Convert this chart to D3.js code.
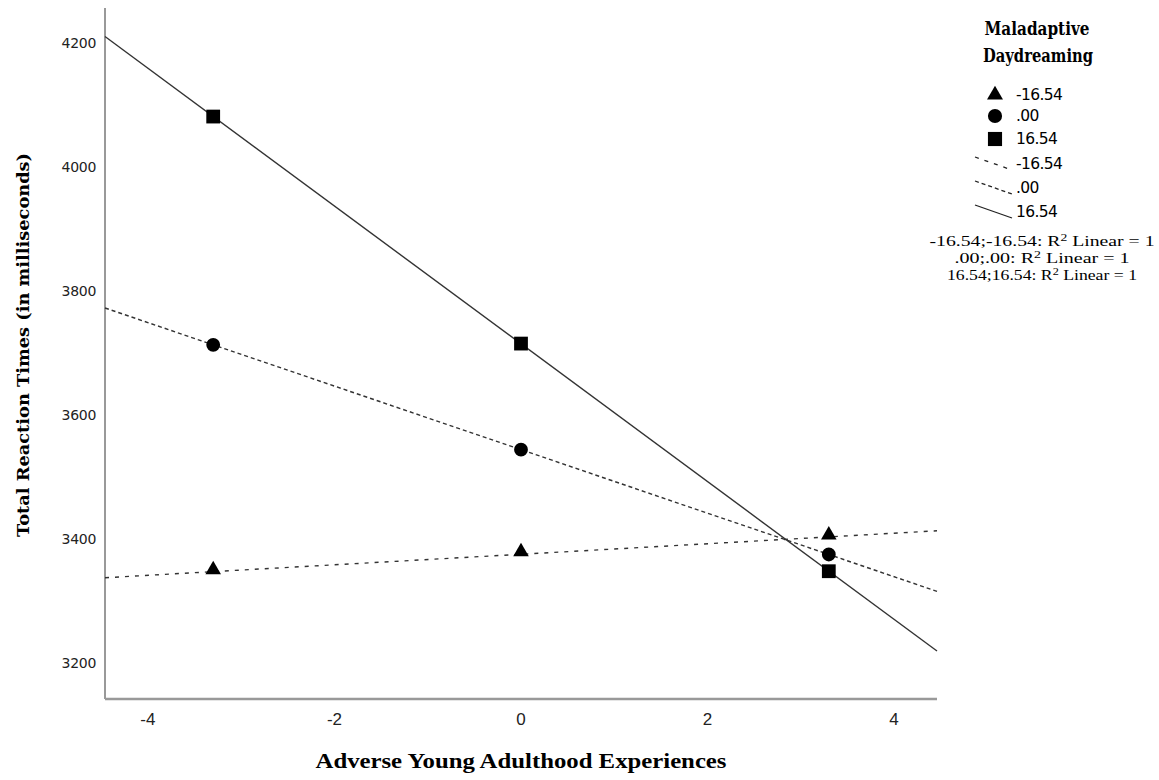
<!DOCTYPE html>
<html><head><meta charset="utf-8">
<script src="https://cdn.jsdelivr.net/npm/d3@7/dist/d3.min.js"></script>
<style>body{margin:0;background:#fff}svg{display:block}</style>
</head><body><svg id="chart" width="1159" height="780"></svg>
<script>
const xValues = [-3.3, 0, 3.3];
const seriesNames = ["-16.54", ".00", "16.54"];
const lowMD = [3347, 3376, 3403];
const meanMD = [3713, 3544, 3375];
const highMD = [4081, 3715, 3348];
const xTicks = [-4, -2, 0, 2, 4];
const yTicks = [3200, 3400, 3600, 3800, 4000, 4200];
const r2Labels = ["-16.54;-16.54: R", ".00;.00: R", "16.54;16.54: R"];

const series = [
  {name: seriesNames[0], values: lowMD, shape: d3.symbolTriangle, dash: "4,6"},
  {name: seriesNames[1], values: meanMD, shape: d3.symbolCircle, dash: "4,3"},
  {name: seriesNames[2], values: highMD, shape: d3.symbolSquare, dash: null}
];

const svg = d3.select("#chart");
const pLeft = 105, pRight = 937, pTop = 8, pBottom = 699;
const x = d3.scaleLinear().domain([-4.46, 4.46]).range([pLeft, pRight]);
const y = d3.scaleLinear().domain([3142, 4256]).range([pBottom, pTop]);

// axes
svg.append("line").attr("x1", pLeft).attr("x2", pLeft).attr("y1", pTop).attr("y2", pBottom)
  .attr("stroke", "#555").attr("stroke-width", 1.2);
svg.append("line").attr("x1", pLeft).attr("x2", pRight).attr("y1", pBottom).attr("y2", pBottom)
  .attr("stroke", "#999").attr("stroke-width", 2.5);

svg.append("g").selectAll("text").data(yTicks).join("text")
  .attr("x", pLeft - 9).attr("y", d => y(d)).attr("dy", "0.35em")
  .attr("text-anchor", "end").attr("font-family", "DejaVu Sans").attr("font-size", 14)
  .attr("letter-spacing", -0.3).attr("fill", "#222").text(d => d);

svg.append("g").selectAll("text").data(xTicks).join("text")
  .attr("x", d => x(d)).attr("y", 719).attr("dy", "0.35em")
  .attr("text-anchor", "middle").attr("font-family", "Liberation Sans Narrow, Liberation Sans").attr("font-size", 17)
  .attr("fill", "#222").text(d => d);

svg.append("text").attr("transform", "translate(23,345) rotate(-90)")
  .attr("text-anchor", "middle").attr("font-family", "DejaVu Serif").attr("font-weight", "bold")
  .attr("font-size", 17).attr("dy", "0.35em")
  .attr("textLength", 384).attr("lengthAdjust", "spacingAndGlyphs")
  .text("Total Reaction Times (in milliseconds)");
svg.append("text").attr("x", 521).attr("y", 761).attr("dy", "0.35em")
  .attr("text-anchor", "middle").attr("font-family", "Liberation Serif").attr("font-weight", "bold")
  .attr("font-size", 21).attr("textLength", 411).attr("lengthAdjust", "spacingAndGlyphs")
  .text("Adverse Young Adulthood Experiences");

// fit lines
series.forEach(s => {
  const mx = d3.mean(xValues), my = d3.mean(s.values);
  const slope = d3.sum(xValues.map((v, i) => (v - mx) * (s.values[i] - my))) / d3.sum(xValues.map(v => (v - mx) ** 2));
  const b = my - slope * mx;
  const [x0, x1] = x.domain();
  svg.append("line").attr("x1", x(x0)).attr("x2", x(x1))
    .attr("y1", y(b + slope * x0)).attr("y2", y(b + slope * x1))
    .attr("stroke", "#333").attr("stroke-width", 1.4)
    .attr("stroke-dasharray", s.dash);
});

// markers
function symSize(shape) {
  if (shape === d3.symbolSquare) return 190;
  if (shape === d3.symbolCircle) return 150;
  return 105;
}
series.forEach(s => {
  svg.append("g").selectAll("path").data(s.values).join("path")
    .attr("transform", (d, i) => `translate(${x(xValues[i])},${y(d) + (s.shape === d3.symbolTriangle ? -2 : 0)})`)
    .attr("d", d3.symbol().type(s.shape).size(symSize(s.shape)))
    .attr("fill", "#000");
});

// legend
const lg = svg.append("g");
lg.append("text").attr("x", 1037).attr("y", 35).attr("text-anchor", "middle")
  .attr("font-family", "DejaVu Serif").attr("font-weight", "bold").attr("font-size", 18)
  .attr("textLength", 105).attr("lengthAdjust", "spacingAndGlyphs").text("Maladaptive");
lg.append("text").attr("x", 1038).attr("y", 62).attr("text-anchor", "middle")
  .attr("font-family", "DejaVu Serif").attr("font-weight", "bold").attr("font-size", 18)
  .attr("textLength", 110).attr("lengthAdjust", "spacingAndGlyphs").text("Daydreaming");

const markerY = [95, 116, 139];
series.forEach((s, i) => {
  lg.append("path").attr("transform", `translate(995,${markerY[i]})`)
    .attr("d", d3.symbol().type(s.shape).size(symSize(s.shape) * 1.05)).attr("fill", "#000");
  lg.append("text").attr("x", 1016).attr("y", markerY[i]).attr("dy", "0.35em")
    .attr("font-family", "DejaVu Sans").attr("font-size", 15.5).attr("letter-spacing", -0.6).text(s.name);
});
const lineY = [164, 188, 212];
series.forEach((s, i) => {
  lg.append("line").attr("x1", 975).attr("x2", 1012)
    .attr("y1", lineY[i] - 7).attr("y2", lineY[i] + 6)
    .attr("stroke", "#222").attr("stroke-width", 1.3).attr("stroke-dasharray", s.dash);
  lg.append("text").attr("x", 1016).attr("y", lineY[i]).attr("dy", "0.35em")
    .attr("font-family", "DejaVu Sans").attr("font-size", 15.5).attr("letter-spacing", -0.6).text(s.name);
});
const r2Y = [246, 263, 280];
const r2Widths = [225, 175, 190];
r2Labels.forEach((t, i) => {
  const tx = lg.append("text").attr("x", 1042).attr("y", r2Y[i]).attr("text-anchor", "middle")
    .attr("font-family", "Liberation Serif").attr("font-size", 14.5)
    .attr("textLength", r2Widths[i]).attr("lengthAdjust", "spacingAndGlyphs");
  tx.append("tspan").text(t);
  tx.append("tspan").attr("dy", -5).attr("font-size", 10).text("2");
  tx.append("tspan").attr("dy", 5).text(" Linear = 1");
});
</script></body></html>
